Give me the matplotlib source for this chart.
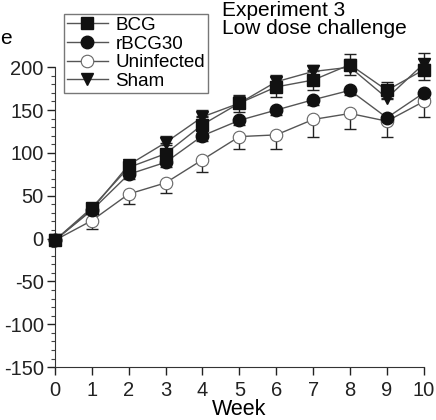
import numpy as np
import matplotlib
matplotlib.use("Agg")
import matplotlib.pyplot as plt

plt.rcParams['font.family'] = ['Liberation Sans', 'DejaVu Sans']
plt.rcParams['axes.unicode_minus'] = False

weeks = [0, 1, 2, 3, 4, 5, 6, 7, 8, 9, 10]

bcg = [-2, 36, 83, 99, 133, 158, 177, 185, 203, 173, 197]
bcg_err = [0, 5, 8, 10, 10, 10, 12, 12, 12, 10, 12]

rbcg30 = [-2, 33, 75, 89, 120, 138, 150, 162, 173, 141, 170]
rbcg30_err = [0, 4, 6, 6, 6, 6, 6, 6, 6, 6, 6]

uninf = [-2, 21, 52, 65, 92, 119, 121, 139, 146, 137, 160]
uninf_err = [0, 10, 12, 12, 14, 14, 16, 20, 18, 18, 18]

sham = [-2, 34, 86, 112, 142, 158, 183, 195, 200, 164, 204]
sham_err = [0, 4, 6, 8, 8, 8, 8, 8, 10, 10, 12]

fig = plt.figure(figsize=(4.36, 4.2), dpi=100)
ax = fig.add_axes([0.126, 0.126, 0.846, 0.714])

lc = '#555555'
zeros = [0] * len(weeks)

# error bars (upper for BCG/Sham, lower for rBCG30 and uninfected)
ax.errorbar(weeks, bcg, yerr=[bcg_err, bcg_err], fmt='none', ecolor='#222222',
            elinewidth=1, capsize=4, clip_on=False)
ax.errorbar(weeks, sham, yerr=[zeros, sham_err], fmt='none', ecolor='#222222',
            elinewidth=1, capsize=4, clip_on=False)
ax.errorbar(weeks, rbcg30, yerr=[rbcg30_err, zeros], fmt='none', ecolor='#222222',
            elinewidth=1, capsize=4, clip_on=False)
ax.errorbar(weeks, uninf, yerr=[uninf_err, zeros], fmt='none', ecolor='#222222',
            elinewidth=1, capsize=4, clip_on=False)

ax.plot(weeks, uninf, '-o', color=lc, lw=1, ms=9, mfc='white', mec='#666666',
        mew=0.8, label='Uninfected', clip_on=False, zorder=3)
ax.plot(weeks, rbcg30, '-o', color=lc, lw=1, ms=9, mfc='#111111', mec='#111111',
        label='rBCG30', clip_on=False, zorder=4)
ax.plot(weeks, sham, '-v', color=lc, lw=1, ms=9, mfc='#111111', mec='#111111',
        label='Sham', clip_on=False, zorder=5)
ax.plot(weeks, bcg, '-s', color=lc, lw=1, ms=9, mfc='#111111', mec='#111111',
        label='BCG', clip_on=False, zorder=6)

ax.set_xlim(0, 10)
ax.set_ylim(-150, 200)
ax.set_xticks(weeks)
ax.set_yticks(np.arange(-150, 201, 50))
ax.set_yticks(np.arange(-150, 201, 10), minor=True)
ax.tick_params(axis='both', which='major', direction='out', length=6, width=1,
               labelsize=14.5, colors='#222222', pad=2)
ax.tick_params(axis='x', which='major', pad=4)
ax.tick_params(axis='y', which='minor', direction='out', length=3, width=0.8,
               colors='#444444')
for s in ['top', 'right']:
    ax.spines[s].set_visible(False)
for s in ['left', 'bottom']:
    ax.spines[s].set_color('#333333')

ax.set_xlabel('Week', fontsize=15.5, labelpad=-1)

handles, labels = ax.get_legend_handles_labels()
order = [labels.index(n) for n in ['BCG', 'rBCG30', 'Uninfected', 'Sham']]
leg = fig.legend([handles[i] for i in order], [labels[i] for i in order],
                 loc='upper left', bbox_to_anchor=(64 / 436, 1 - 14 / 420),
                 fontsize=13.5, frameon=True, fancybox=False, handlelength=2.2,
                 handletextpad=0.4, borderpad=0.15, labelspacing=0.08,
                 borderaxespad=0)
leg.get_frame().set_edgecolor('#555555')
leg.get_frame().set_linewidth(1)

fig.text(222 / 436, 1 - 1 / 420, 'Experiment 3\nLow dose challenge',
         fontsize=15, va='top', ha='left', linespacing=0.95)
fig.text(0.0, 1 - 38 / 420, 'e', fontsize=15, va='center', ha='left')

fig.savefig('out.png', dpi=100)
